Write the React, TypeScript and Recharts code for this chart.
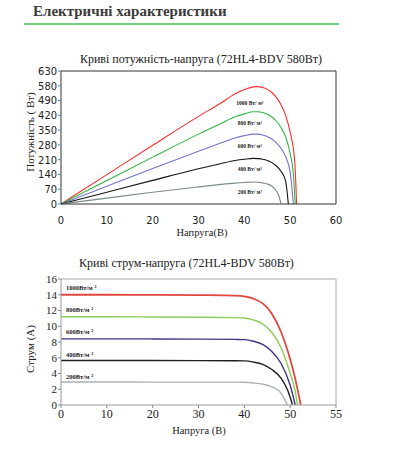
import * as React from "react";
import {
  LineChart,
  Line,
  XAxis,
  YAxis,
  ReferenceLine,
  ReferenceDot,
} from "recharts";

// irradiance levels, W/m²
const levels = ["1000", "800", "600", "400", "200"];

// P-V curves (voltage V, power W)
const pv1000 = [
  { v: 0, p: 0 }, { v: 10, p: 139 }, { v: 20, p: 278 }, { v: 30, p: 415 },
  { v: 35, p: 480 }, { v: 38, p: 522 }, { v: 40, p: 542 }, { v: 42, p: 555 },
  { v: 43, p: 556 }, { v: 44, p: 552 }, { v: 45, p: 543 }, { v: 46, p: 528 },
  { v: 47, p: 505 }, { v: 48, p: 470 }, { v: 49, p: 420 }, { v: 50, p: 340 },
  { v: 51, p: 200 }, { v: 51.4, p: 0 },
];
const pv800 = [
  { v: 0, p: 0 }, { v: 10, p: 111 }, { v: 20, p: 222 }, { v: 30, p: 331 },
  { v: 35, p: 383 }, { v: 38, p: 413 }, { v: 40, p: 427 }, { v: 42, p: 437 },
  { v: 43, p: 437 }, { v: 44, p: 433 }, { v: 45, p: 425 }, { v: 46, p: 412 },
  { v: 47, p: 392 }, { v: 48, p: 362 }, { v: 49, p: 318 }, { v: 50, p: 240 },
  { v: 50.7, p: 140 }, { v: 51.1, p: 0 },
];
const pv600 = [
  { v: 0, p: 0 }, { v: 10, p: 84 }, { v: 20, p: 168 }, { v: 30, p: 250 },
  { v: 35, p: 290 }, { v: 38, p: 313 }, { v: 40, p: 324 }, { v: 42, p: 331 },
  { v: 43, p: 331 }, { v: 44, p: 327 }, { v: 45, p: 320 }, { v: 46, p: 308 },
  { v: 47, p: 290 }, { v: 48, p: 264 }, { v: 49, p: 225 }, { v: 50, p: 150 },
  { v: 50.7, p: 0 },
];
const pv400 = [
  { v: 0, p: 0 }, { v: 10, p: 56 }, { v: 20, p: 112 }, { v: 30, p: 167 },
  { v: 35, p: 192 }, { v: 38, p: 206 }, { v: 40, p: 212 }, { v: 42, p: 216 },
  { v: 43, p: 215 }, { v: 44, p: 212 }, { v: 45, p: 206 }, { v: 46, p: 196 },
  { v: 47, p: 180 }, { v: 48, p: 155 }, { v: 49, p: 110 }, { v: 49.6, p: 0 },
];
const pv200 = [
  { v: 0, p: 0 }, { v: 10, p: 28 }, { v: 20, p: 56 }, { v: 30, p: 81 },
  { v: 35, p: 93 }, { v: 38, p: 99 }, { v: 40, p: 102 }, { v: 42, p: 104 },
  { v: 43, p: 103 }, { v: 44, p: 100 }, { v: 45, p: 95 }, { v: 46, p: 85 },
  { v: 47, p: 62 }, { v: 47.5, p: 40 }, { v: 48, p: 0 },
];

// I-V curves (voltage V, current A)
const iv1000 = [
  { v: 0, i: 14.0 }, { v: 10, i: 14.0 }, { v: 20, i: 13.98 }, { v: 30, i: 13.95 },
  { v: 38, i: 13.9 }, { v: 40, i: 13.8 }, { v: 42, i: 13.5 }, { v: 44, i: 12.9 },
  { v: 46, i: 11.6 }, { v: 48, i: 9.3 }, { v: 50, i: 5.8 }, { v: 51, i: 3.6 },
  { v: 52.3, i: 0 },
];
const iv800 = [
  { v: 0, i: 11.2 }, { v: 10, i: 11.2 }, { v: 20, i: 11.18 }, { v: 30, i: 11.15 },
  { v: 38, i: 11.1 }, { v: 40, i: 11.05 }, { v: 42, i: 10.8 }, { v: 44, i: 10.3 },
  { v: 46, i: 9.2 }, { v: 48, i: 7.3 }, { v: 50, i: 4.0 }, { v: 51, i: 2.0 },
  { v: 51.6, i: 0 },
];
const iv600 = [
  { v: 0, i: 8.4 }, { v: 10, i: 8.4 }, { v: 20, i: 8.39 }, { v: 30, i: 8.37 },
  { v: 38, i: 8.33 }, { v: 40, i: 8.3 }, { v: 42, i: 8.1 }, { v: 44, i: 7.7 },
  { v: 46, i: 6.8 }, { v: 48, i: 5.3 }, { v: 50, i: 2.5 }, { v: 51.1, i: 0 },
];
const iv400 = [
  { v: 0, i: 5.66 }, { v: 10, i: 5.66 }, { v: 20, i: 5.65 }, { v: 30, i: 5.64 },
  { v: 38, i: 5.62 }, { v: 40, i: 5.6 }, { v: 42, i: 5.45 }, { v: 44, i: 5.15 },
  { v: 46, i: 4.5 }, { v: 48, i: 3.4 }, { v: 49.5, i: 1.8 }, { v: 50.5, i: 0 },
];
const iv200 = [
  { v: 0, i: 2.92 }, { v: 10, i: 2.92 }, { v: 20, i: 2.91 }, { v: 30, i: 2.91 },
  { v: 38, i: 2.9 }, { v: 40, i: 2.88 }, { v: 42, i: 2.8 }, { v: 44, i: 2.65 },
  { v: 46, i: 2.3 }, { v: 48, i: 1.5 }, { v: 49.4, i: 0 },
];

// ticks and their printed labels (as they appear in the source)
const pvXTicks = [0, 10, 20, 30, 40, 50, 60];
const pvYTicks = [0, 70, 140, 210, 280, 350, 420, 490, 560, 630];
const pvYLabels = ["0", "70", "140", "210", "280", "350", "420", "490", "580", "630"];
const ivXTicks = [0, 10, 20, 30, 40, 50, 60];
const ivXLabels = ["0", "10", "20", "30", "40", "50", "55"];
const ivYTicks = [0, 2, 4, 6, 8, 10, 12, 14, 16];

// where the irradiance labels sit, in data units
const pvLabelAt = [
  { v: 41.2, p: 480 }, { v: 41.2, p: 382 }, { v: 41.2, p: 276 },
  { v: 41.2, p: 164 }, { v: 41.2, p: 55 },
];
const ivLabelAt = [
  { v: 1.1, i: 14.86 }, { v: 1.1, i: 12.1 }, { v: 1.1, i: 9.35 },
  { v: 1.1, i: 6.35 }, { v: 1.1, i: 3.63 },
];

const pvSeries = [pv1000, pv800, pv600, pv400, pv200];
const ivSeries = [iv1000, iv800, iv600, iv400, iv200];
const pvColors = ["#ff2b2b", "#33b546", "#7474cc", "#141414", "#7d8b8b"];
const ivColors = ["#e2463e", "#8ccc5a", "#3f3382", "#1e1e1e", "#aab2b2"];

const serif = "'Liberation Serif', 'DejaVu Serif', serif";
const narrow = "'Liberation Sans Narrow', 'DejaVu Sans Condensed', sans-serif";

const abs = (s: React.CSSProperties): React.CSSProperties => ({ position: "absolute", ...s });

export default function App() {
  return (
    <div style={abs({ left: 0, top: 0, width: 394, height: 469, background: "#fff", overflow: "hidden", fontFamily: serif })}>
      {/* heading */}
      <div style={abs({ left: 33, top: 3, fontSize: 15, fontWeight: 700, color: "#3b3b3b", whiteSpace: "nowrap" })}>
        Електричні характеристики
      </div>
      <div style={abs({ left: 24, top: 23, width: 315, height: 1.5, background: "#74cc86" })} />

      {/* P-V chart */}
      <div style={abs({ left: 0, top: 52, width: 394, textAlign: "center", fontSize: 12, color: "#222", paddingLeft: 4, whiteSpace: "nowrap" })}>
        Криві потужність-напруга (72HL4-BDV 580Вт)
      </div>
      <div style={abs({ left: 30, top: 132, transform: "translate(-50%,-50%) rotate(-90deg)", fontSize: 11, color: "#222", whiteSpace: "nowrap" })}>
        Потужність ( Вт)
      </div>
      <div style={abs({ left: 202, top: 227, transform: "translateX(-50%)", fontSize: 10.5, color: "#222", whiteSpace: "nowrap" })}>
        Напруга(В)
      </div>
      <div style={abs({ left: 0, top: 0 })}>
        <LineChart width={394} height={240} margin={{ top: 71, right: 58, left: 0, bottom: 6 }}>
          <XAxis
            dataKey="v"
            type="number"
            domain={[0, 60]}
            ticks={pvXTicks}
            interval={0}
            tickLine={false}
            axisLine={{ stroke: "#333" }}
            height={30}
            tickMargin={6}
            tick={{ fontSize: 11, fill: "#222", fontFamily: narrow }}
          />
          <YAxis
            type="number"
            domain={[0, 630]}
            ticks={pvYTicks}
            interval={0}
            tickFormatter={(v: number) => pvYLabels[pvYTicks.indexOf(v)]}
            width={61}
            tickSize={3}
            tickMargin={1}
            tickLine={{ stroke: "#4a8fb0" }}
            axisLine={{ stroke: "#333" }}
            tick={{ fontSize: 11, fill: "#222", fontFamily: narrow }}
          />
          <ReferenceLine y={630} stroke="#333" />
          <ReferenceLine x={60} stroke="#333" />
          {pvSeries.map((d, k) => (
            <Line
              key={levels[k]}
              data={d}
              dataKey="p"
              type="monotone"
              stroke={pvColors[k]}
              strokeWidth={1.1}
              dot={false}
              isAnimationActive={false}
            />
          ))}
          {pvLabelAt.map((a, k) => (
            <ReferenceDot
              key={"l" + k}
              x={a.v}
              y={a.p}
              r={0}
              stroke="none"
              fill="none"
              label={{
                value: `${levels[k]} Вт/ м²`,
                position: "center",
                fontSize: 5.5,
                fontWeight: 700,
                fill: "#222",
                fontFamily: serif,
              }}
            />
          ))}
        </LineChart>
      </div>

      {/* I-V chart */}
      <div style={abs({ left: 79, top: 256, fontSize: 12, color: "#222", whiteSpace: "nowrap" })}>
        Криві струм-напруга (72HL4-BDV 580Вт)
      </div>
      <div style={abs({ left: 30, top: 349, transform: "translate(-50%,-50%) rotate(-90deg)", fontSize: 11, color: "#222", whiteSpace: "nowrap" })}>
        Струм (А)
      </div>
      <div style={abs({ left: 199, top: 425, transform: "translateX(-50%)", fontSize: 10.5, color: "#222", whiteSpace: "nowrap" })}>
        Напруга (В)
      </div>
      <div style={abs({ left: 0, top: 250 })}>
        <LineChart width={394} height={180} margin={{ top: 29, right: 58, left: 0, bottom: 5 }}>
          <XAxis
            dataKey="v"
            type="number"
            domain={[0, 60]}
            ticks={ivXTicks}
            interval={0}
            tickFormatter={(v: number) => ivXLabels[ivXTicks.indexOf(v)]}
            tickSize={3}
            tickMargin={1}
            tickLine={{ stroke: "#888" }}
            axisLine={{ stroke: "#999" }}
            height={20}
            tick={{ fontSize: 12, fill: "#222", fontFamily: serif }}
          />
          <YAxis
            type="number"
            domain={[0, 16]}
            ticks={ivYTicks}
            interval={0}
            width={61}
            tickSize={3}
            tickMargin={1}
            tickLine={{ stroke: "#888" }}
            axisLine={{ stroke: "#999" }}
            tick={{ fontSize: 11, fill: "#222", fontFamily: serif }}
          />
          <ReferenceLine y={16} stroke="#aaa" />
          <ReferenceLine x={60} stroke="#aaa" />
          {ivSeries.map((d, k) => (
            <Line
              key={levels[k]}
              data={d}
              dataKey="i"
              type="monotone"
              stroke={ivColors[k]}
              strokeWidth={k === 0 ? 1.8 : 1.4}
              dot={false}
              isAnimationActive={false}
            />
          ))}
          {ivLabelAt.map((a, k) => (
            <ReferenceDot
              key={"l" + k}
              x={a.v}
              y={a.i}
              r={0}
              stroke="none"
              fill="none"
              label={{
                value: `${levels[k]}Вт/м ²`,
                position: "right",
                offset: 0,
                fontSize: 6.5,
                fontWeight: 700,
                fill: "#222",
                fontFamily: serif,
              }}
            />
          ))}
        </LineChart>
      </div>
    </div>
  );
}
